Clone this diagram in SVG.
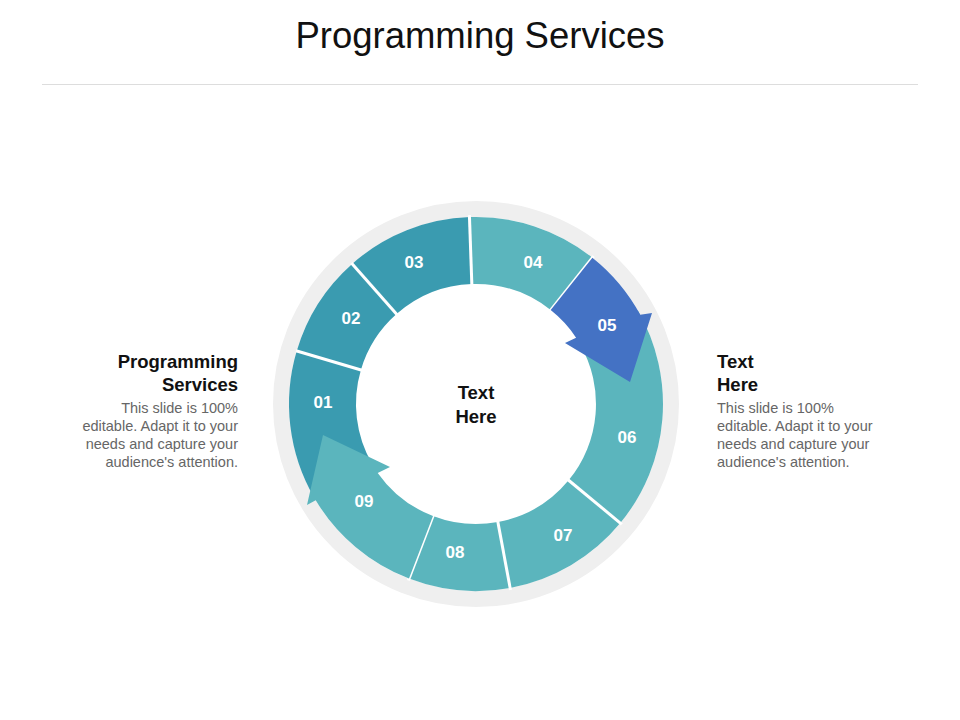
<svg xmlns="http://www.w3.org/2000/svg" width="960" height="720" viewBox="0 0 960 720">
<style>
.d{fill:#3A9BB0}.l{fill:#5BB5BD}.b{fill:#4472C4}
.n{font-family:"Liberation Sans",Arial,sans-serif;font-weight:bold;font-size:17px;fill:#fff;text-anchor:middle}
.h{font-family:"Liberation Sans",Arial,sans-serif;font-weight:bold;font-size:18.5px;fill:#111}
.t{font-family:"Liberation Sans",Arial,sans-serif;font-size:14.5px;fill:#666}
.sep{stroke:#fff;stroke-width:3}
</style>
<rect width="960" height="720" fill="#fff"/>
<text x="480" y="48" text-anchor="middle" font-family="Liberation Sans,Arial,sans-serif" font-size="36.5" fill="#111">Programming Services</text>
<line x1="42" y1="84.5" x2="918" y2="84.5" stroke="#ddd" stroke-width="1"/>
<circle cx="476" cy="404" r="195" fill="none" stroke="#EFEFEF" stroke-width="16"/>
<g id="s01"><path class="d" d="M314.1,497.5 A187,187 0 0 1 296.7,350.9 L360.9,369.9 A120,120 0 0 0 372.1,464 Z"/><text class="n" x="323" y="408">01</text></g>
<g id="s02"><path class="d" d="M296.7,350.9 A187,187 0 0 1 352.1,263.9 L396.5,314.1 A120,120 0 0 0 360.9,369.9 Z"/><text class="n" x="351" y="324">02</text></g>
<g id="s03"><path class="d" d="M352.1,263.9 A187,187 0 0 1 469.5,217.1 L471.8,284.1 A120,120 0 0 0 396.5,314.1 Z"/><text class="n" x="414" y="268">03</text></g>
<g id="s04"><path class="l" d="M469.5,217.1 A187,187 0 0 1 592.4,257.7 L550.7,310.1 A120,120 0 0 0 471.8,284.1 Z"/><text class="n" x="533" y="268">04</text></g>
<g id="s06"><path class="l" d="M637.9,310.5 A187,187 0 0 1 620.3,523 L568.6,480.3 A120,120 0 0 0 579.9,344 Z"/><text class="n" x="627" y="443">06</text></g>
<g id="s07"><path class="l" d="M620.3,523 A187,187 0 0 1 510.1,587.9 L497.9,522 A120,120 0 0 0 568.6,480.3 Z"/><text class="n" x="563" y="541">07</text></g>
<g id="s08"><path class="l" d="M510.1,587.9 A187,187 0 0 1 409,578.6 L433,516 A120,120 0 0 0 497.9,522 Z"/><text class="n" x="455" y="558">08</text></g>
<g id="connectors">
<line class="sep" x1="296" y1="350.7" x2="362.8" y2="370.5"/>
<line class="sep" x1="351.4" y1="263.1" x2="397.8" y2="315.6"/>
<line class="sep" x1="469.4" y1="215.1" x2="471.9" y2="286.1"/>
<line class="sep" x1="593.6" y1="256.1" x2="549.5" y2="311.7"/>
<line class="sep" x1="621.8" y1="524.3" x2="567.1" y2="479"/>
<line class="sep" x1="510.5" y1="589.9" x2="497.5" y2="520"/>
<line class="sep" x1="408.3" y1="580.5" x2="433.7" y2="514.1"/>
</g>
<g id="s05"><path class="b" d="M592.4,257.7 A187,187 0 0 1 640.3,314.8 L652,313 L630,382 L565,343 L576.1,337.7 A120,120 0 0 0 550.7,310.1 Z"/><text class="n" x="607" y="331">05</text></g>
<g id="s09"><path class="l" d="M409,578.6 A187,187 0 0 1 315.7,500.3 L307,505 L323,435 L390,467 L377.7,472.9 A120,120 0 0 0 433,516 Z"/><text class="n" x="364" y="507">09</text></g>
<g id="center"><text class="h" x="476" y="399" text-anchor="middle">Text</text><text class="h" x="476" y="423" text-anchor="middle">Here</text></g>
<g id="left" text-anchor="end">
<text class="h" x="238" y="368">Programming</text><text class="h" x="238" y="391">Services</text>
<text class="t" x="238" y="413">This slide is 100%</text><text class="t" x="238" y="431">editable. Adapt it to your</text><text class="t" x="238" y="449">needs and capture your</text><text class="t" x="238" y="467">audience's attention.</text>
</g>
<g id="right">
<text class="h" x="717" y="368">Text</text><text class="h" x="717" y="391">Here</text>
<text class="t" x="717" y="413">This slide is 100%</text><text class="t" x="717" y="431">editable. Adapt it to your</text><text class="t" x="717" y="449">needs and capture your</text><text class="t" x="717" y="467">audience's attention.</text>
</g>
</svg>
